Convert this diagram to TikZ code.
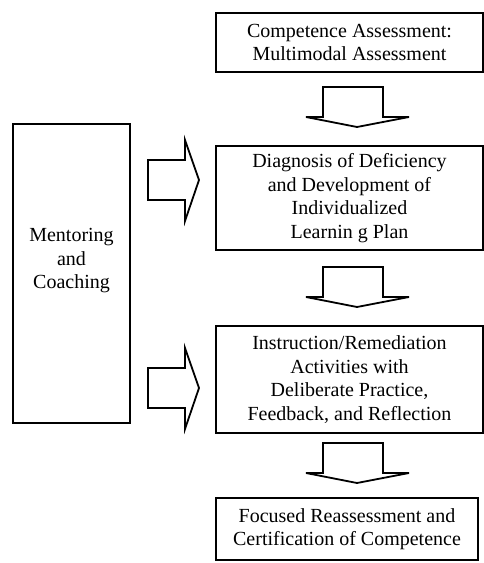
\documentclass[tikz,border=0pt]{standalone}
\usepackage{fontspec}
\setmainfont{Liberation Serif}
\begin{document}
\begin{tikzpicture}[x=1pt,y=-1pt,
  box/.style={draw,line width=1.8pt,align=center,inner sep=0pt,
    font=\fontsize{20}{23.5}\selectfont},
  caption/.style={align=center,inner sep=0pt,
    font=\fontsize{20}{23.5}\selectfont},
  blockarrow/.style={draw,line width=1.8pt,line join=miter}]
\useasboundingbox (0,0) rectangle (484,563);

% process boxes
\node[box,minimum width=267pt,minimum height=59pt] (assess) at (349.5,42.5)
  {Competence Assessment:\\Multimodal Assessment};
\node[box,minimum width=267pt,minimum height=104pt] (diag) at (349.5,198)
  {Diagnosis of Deficiency\\and Development of\\Individualized\\Learnin g Plan};
\node[box,minimum width=267pt,minimum height=107pt] (instr) at (349.5,379.5)
  {Instruction/Remediation\\Activities with\\Deliberate Practice,\\Feedback, and Reflection};
\node[box,minimum width=262pt,minimum height=62pt] (reassess) at (347,529)
  {Focused Reassessment and\\Certification of Competence};

% side box, its text set a little above the middle
\node[box,minimum width=117pt,minimum height=299pt] (mentor) at (71.5,273.5) {};
\node[caption] (mentortext) at (71.5,261) {Mentoring\\and\\Coaching};

% hollow block arrows pointing down, between successive boxes
\foreach \top in {87,267,443}{
  \draw[blockarrow] (323,\top) -- (383,\top) -- (383,\top+30) -- (409,\top+30)
    -- (357,\top+40) -- (306,\top+30) -- (323,\top+30) -- cycle;
}

% hollow block arrows pointing right, from the side box
\foreach \mid in {180,388}{
  \draw[blockarrow] (148,\mid-20) -- (185,\mid-20) -- (185,\mid-40)
    -- (199,\mid) -- (185,\mid+41) -- (185,\mid+20) -- (148,\mid+20) -- cycle;
}
\end{tikzpicture}
\end{document}
